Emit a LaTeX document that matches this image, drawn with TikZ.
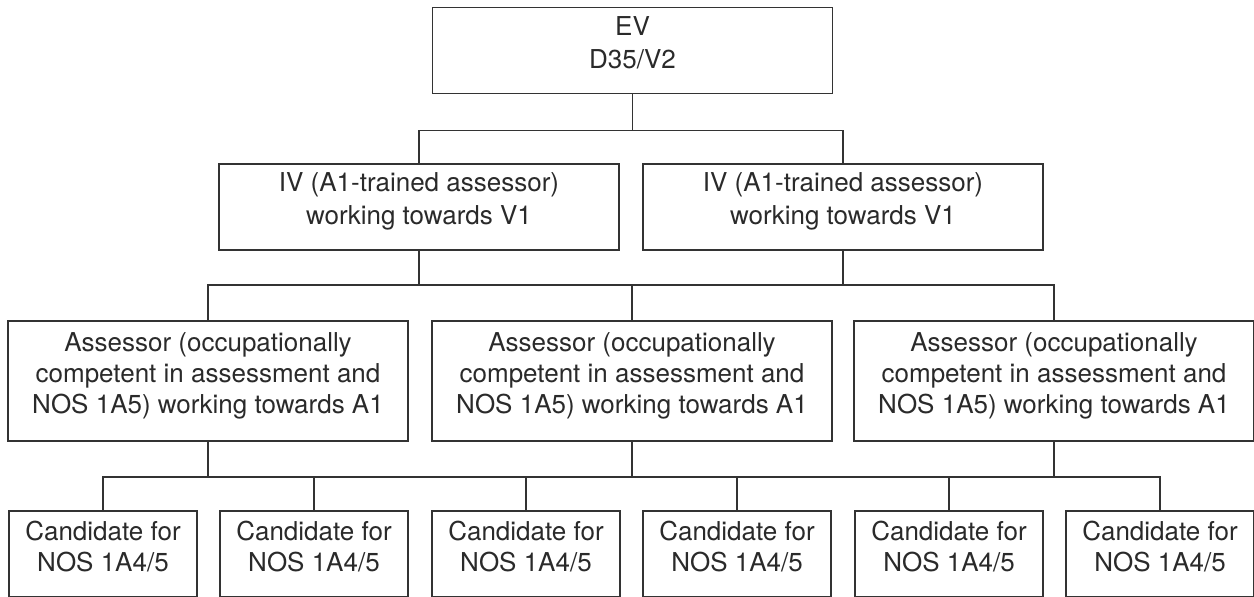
\documentclass[tikz,border=0pt]{standalone}
\usepackage{fontspec}
\setmainfont{TeX Gyre Heros}
\usepackage{tikz}
\usetikzlibrary{positioning}
\definecolor{orgline}{HTML}{333333}
\definecolor{orgtext}{HTML}{2A2A2A}

\begin{document}
\begin{tikzpicture}[
    x=0.5pt, y=-0.5pt,
    role/.style={draw=orgline, fill=white, text=orgtext, align=center,
                 inner sep=0pt, line width=0.75pt,
                 execute at end node={\rule[-8pt]{0pt}{8pt}}},
    verifier/.style={role, minimum width=200pt, minimum height=43pt,
                     font=\fontsize{13pt}{16.5pt}\selectfont},
    assessor/.style={role, minimum width=200pt, minimum height=60pt,
                     font=\fontsize{13pt}{15.4pt}\selectfont},
    candidate/.style={role, minimum width=94pt, minimum height=43pt,
                      font=\fontsize{13pt}{15.4pt}\selectfont},
    link/.style={draw=orgline, line width=0.75pt}
]
\path[use as bounding box, clip] (0,0) rectangle (1254,596);

\node[verifier] (ev) at (632.5,50.5) {EV\\D35/V2};

\node[verifier] (ivA) at (419,207) {IV (A1-trained assessor)\\working towards V1};
\node[verifier] (ivB) at (843,207) {IV (A1-trained assessor)\\working towards V1};

\node[assessor] (asA) at (208,381) {Assessor (occupationally\\competent in assessment and\\NOS 1A5) working towards A1};
\node[assessor] (asB) at (632,381) {Assessor (occupationally\\competent in assessment and\\NOS 1A5) working towards A1};
\node[assessor] (asC) at (1054,381) {Assessor (occupationally\\competent in assessment and\\NOS 1A5) working towards A1};

\node[candidate] (caA) at (103,554) {Candidate for\\NOS 1A4/5};
\node[candidate] (caB) at (314,554) {Candidate for\\NOS 1A4/5};
\node[candidate] (caC) at (526,554) {Candidate for\\NOS 1A4/5};
\node[candidate] (caD) at (737,554) {Candidate for\\NOS 1A4/5};
\node[candidate] (caE) at (949,554) {Candidate for\\NOS 1A4/5};
\node[candidate] (caF) at (1160,554) {Candidate for\\NOS 1A4/5};

% EV to IVs
\draw[link] (ev.south) -- ++(0,36) -| (ivA.north);
\draw[link] (ev.south) -- ++(0,36) -| (ivB.north);

% IV to assessors (one bus)
\draw[link] (ivA.south) -- ++(0,34) -| (asA.north);
\draw[link] (ivA.south) -- ++(0,34) -| (asB.north);
\draw[link] (ivB.south) -- ++(0,34) -| (asC.north);
\draw[link] (ivA.south) -- ++(0,34) -| (ivB.south);

% assessors to candidates (one bus)
\draw[link] (asA.south) -- ++(0,35) -| (caA.north);
\draw[link] (asA.south) -- ++(0,35) -| (caB.north);
\draw[link] (asB.south) -- ++(0,35) -| (caC.north);
\draw[link] (asB.south) -- ++(0,35) -| (caD.north);
\draw[link] (asC.south) -- ++(0,35) -| (caE.north);
\draw[link] (asC.south) -- ++(0,35) -| (caF.north);
\draw[link] (asA.south) -- ++(0,35) -| (asB.south);
\draw[link] (asB.south) -- ++(0,35) -| (asC.south);
\end{tikzpicture}
\end{document}
